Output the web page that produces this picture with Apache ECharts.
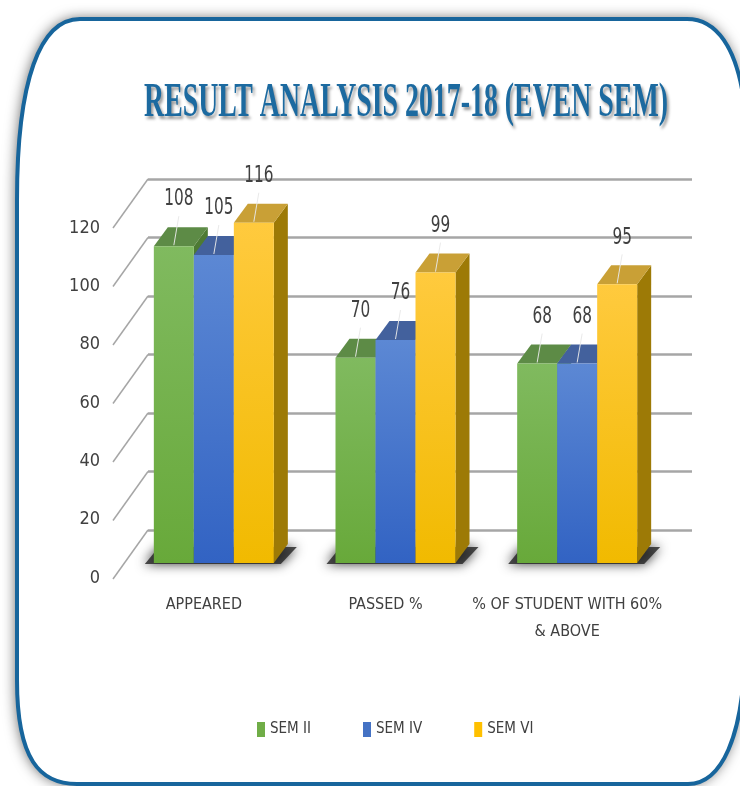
<!DOCTYPE html>
<html>
<head>
<meta charset="utf-8">
<title>Result Analysis 2017-18 (Even Sem)</title>
<script src="https://cdn.jsdelivr.net/npm/echarts@6/dist/echarts.min.js"></script>
<style>
  html, body { margin: 0; padding: 0; background: #fff; }
  #main { width: 740px; height: 786px; }
</style>
</head>
<body>
<div id="main"></div>
<script>
var categories = ['APPEARED', 'PASSED %', '% OF STUDENT WITH 60% & ABOVE'];
var semNames = ['SEM II', 'SEM IV', 'SEM VI'];
var semII = [108, 70, 68];
var semIV = [105, 76, 68];
var semVI = [116, 99, 95];
var yTicks = [0, 20, 40, 60, 80, 100, 120];

var FONT = "'Liberation Sans Narrow', 'DejaVu Sans Condensed', Roboto, sans-serif";
// front gradient (top, bottom), top face, side face, legend swatch
var palette = [
    {front: ['#80ba5f', '#68a93a'], top: '#5d8b46', side: '#4d7a33', legend: '#70ad47'},
    {front: ['#5c88d4', '#3263c3'], top: '#43619d', side: '#2f4f8a', legend: '#4472c4'},
    {front: ['#ffca3e', '#f1ba00'], top: '#c9a036', side: '#9d7a06', legend: '#ffc000'}
];
var BAR_W = 40, DX = 14, DY = 19;
var FRAME_PATH = 'M 80 19 L 687 19 C 715 19 738 45 745 110 L 745 640 C 745 740 720 784 688 784 ' +
    'L 77 784 C 40 784 17 760 17 680 L 17 200 C 17 80 40 19 80 19 Z';

function barRenderer (s) {
    return function (params, api) {
        var idx = api.value(0);
        var val = api.value(1);
        var top = api.coord([idx, val]);
        var base = api.coord([idx, 0]);
        var x0 = top[0] - 1.5 * BAR_W + s * BAR_W;
        var x1 = x0 + BAR_W;
        var yT = top[1], yB = base[1];
        var c = palette[s];
        var kids = [];
        if (s === 0) {
            // soft floor shadow under the whole group
            var gx1 = x0 + 3 * BAR_W;
            kids.push({
                type: 'polygon',
                shape: {points: [[x0 - 9, yB + 1], [gx1 + 7, yB + 1], [gx1 + DX + 9, yB - DY + 3], [x0 + DX - 9, yB - DY + 3]]},
                style: {fill: 'rgba(35,35,35,0.8)', shadowBlur: 12, shadowColor: 'rgba(0,0,0,1)'}
            });
        }
        kids.push({
            type: 'polygon',
            shape: {points: [[x1, yT], [x1 + DX, yT - DY], [x1 + DX, yB - DY], [x1, yB]]},
            style: {fill: c.side}
        });
        kids.push({
            type: 'polygon',
            shape: {points: [[x0, yT], [x1, yT], [x1 + DX, yT - DY], [x0 + DX, yT - DY]]},
            style: {fill: c.top}
        });
        kids.push({
            type: 'rect',
            shape: {x: x0, y: yT, width: BAR_W, height: yB - yT},
            style: {fill: new echarts.graphic.LinearGradient(0, 0, 0, 1, [
                {offset: 0, color: c.front[0]}, {offset: 1, color: c.front[1]}
            ])}
        });
        var cx = (x0 + x1) / 2;
        kids.push({
            type: 'line',
            shape: {x1: cx, y1: yT - 1, x2: cx + 5, y2: yT - 30},
            style: {stroke: 'rgba(232,232,232,0.95)', lineWidth: 1}
        });
        kids.push({
            type: 'text',
            x: cx + 5, y: yT - 47, scaleY: 1.4,
            style: {
                text: String(val), x: 0, y: 0, align: 'center', verticalAlign: 'middle',
                fontFamily: FONT, fontSize: 17, fill: '#404040'
            }
        });
        return {type: 'group', children: kids};
    };
}

function slantRenderer (params, api) {
    var p = api.coord([0, api.value(1)]);
    var x = params.coordSys.x;
    return {
        type: 'line',
        shape: {x1: x, y1: p[1], x2: x - 35, y2: p[1] + 49},
        style: {stroke: '#a6a6a6', lineWidth: 1.5}
    };
}

function frameRenderer () {
    // white card with outer shadow, then the blue outline on top of it
    return {
        type: 'group',
        children: [{
            type: 'path',
            shape: {pathData: FRAME_PATH},
            style: {fill: '#fff', shadowBlur: 14, shadowColor: 'rgba(0,0,0,0.65)', shadowOffsetX: -1, shadowOffsetY: 0}
        }, {
            type: 'path',
            shape: {pathData: FRAME_PATH},
            style: {fill: 'none', stroke: '#17659c', lineWidth: 4}
        }]
    };
}

function pairs (arr) {
    return arr.map(function (v, i) { return [i, v]; });
}

var chart = echarts.init(document.getElementById('main'));
var semData = [semII, semIV, semVI];

var series = [{
    type: 'custom',
    name: 'frame',
    xAxisIndex: 0, yAxisIndex: 0,
    z: -1,
    data: [[0, 0]],
    renderItem: frameRenderer,
    silent: true
}, {
    type: 'custom',
    name: 'grid-slant',
    xAxisIndex: 0, yAxisIndex: 0,
    data: yTicks.map(function (v) { return [0, v]; }),
    renderItem: slantRenderer,
    silent: true
}];
semNames.forEach(function (name, s) {
    series.push({
        type: 'custom',
        name: name,
        xAxisIndex: 2, yAxisIndex: 2,
        itemStyle: {color: palette[s].legend},
        encode: {x: 0, y: 1},
        data: pairs(semData[s]),
        renderItem: barRenderer(s)
    });
});

chart.setOption({
    backgroundColor: '#fff',
    animation: false,
    graphic: [{
        type: 'text',
        x: 406, y: 104, scaleX: 0.58,
        style: {
            text: 'RESULT ANALYSIS 2017-18 (EVEN SEM)',
            x: 0, y: 0, align: 'center', verticalAlign: 'middle',
            fontFamily: "'Liberation Serif', 'DejaVu Serif', serif", fontWeight: 'bold', fontSize: 48,
            fill: '#1c6aa0',
            textShadowColor: 'rgba(0,0,0,0.4)', textShadowBlur: 3, textShadowOffsetX: 2, textShadowOffsetY: 3
        }
    }],
    legend: {
        data: semNames,
        left: 252, top: 717,
        icon: 'rect', itemWidth: 8, itemHeight: 15, itemGap: 52,
        textStyle: {fontFamily: FONT, fontSize: 15, color: '#404040'}
    },
    grid: [
        {left: 148, right: 48, top: 179, bottom: 256},
        {left: 113, right: 82, top: 228, bottom: 208},
        {left: 123, right: 72, top: 211, bottom: 223}
    ],
    xAxis: [
        {gridIndex: 0, type: 'value', min: 0, max: 1, show: false},
        {
            gridIndex: 1, type: 'category', data: categories,
            axisLine: {show: false}, axisTick: {show: false},
            axisLabel: {
                interval: 0, hideOverlap: false,
                margin: 13, fontFamily: FONT, fontSize: 16, lineHeight: 27, color: '#404040',
                formatter: function (v) { return v.replace(' & ', '\n& '); }
            }
        },
        {gridIndex: 2, type: 'category', data: categories, show: false}
    ],
    yAxis: [
        {
            gridIndex: 0, type: 'value', min: 0, max: 120, interval: 20,
            axisLine: {show: false}, axisTick: {show: false}, axisLabel: {show: false},
            splitLine: {lineStyle: {color: '#a6a6a6', width: 2.5}}
        },
        {
            gridIndex: 1, type: 'value', min: 0, max: 120, interval: 20,
            axisLine: {show: false}, axisTick: {show: false}, splitLine: {show: false},
            axisLabel: {margin: 13, padding: [6, 0, 0, 0], fontFamily: FONT, fontSize: 18, color: '#404040'}
        },
        {gridIndex: 2, type: 'value', min: 0, max: 120, show: false}
    ],
    series: series
});
</script>
</body>
</html>
